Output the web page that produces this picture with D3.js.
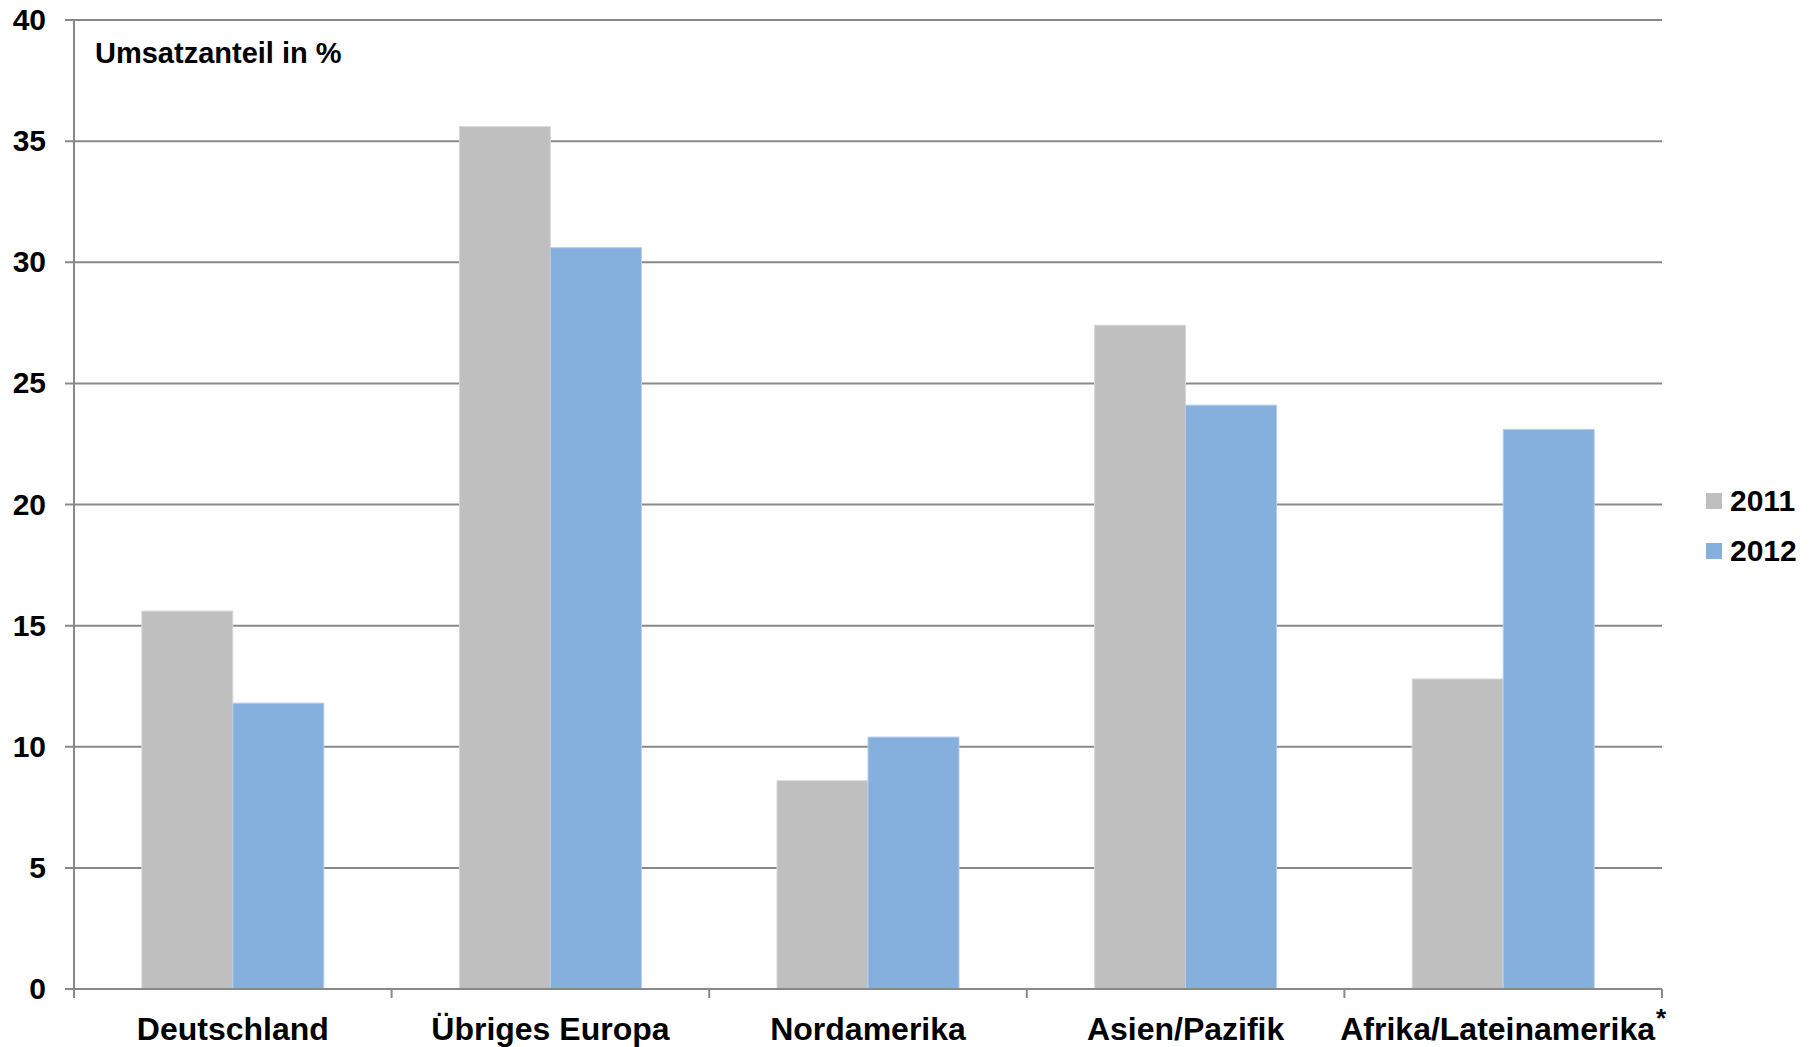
<!DOCTYPE html>
<meta charset="utf-8">
<script src="https://d3js.org/d3.v7.min.js"></script>
<style>
  body { margin: 0; background: #fff; }
  text { font-family: "Liberation Sans", Arial, sans-serif; font-weight: bold; fill: #000; }
</style>
<div id="chart"></div>
<script>
  // data
  var regions = ["Deutschland", "Übriges Europa", "Nordamerika", "Asien/Pazifik", "Afrika/Lateinamerika"];
  var years = ["2011", "2012"];
  var values2011 = [15.6, 35.6, 8.6, 27.4, 12.8];
  var values2012 = [11.8, 30.6, 10.4, 24.1, 23.1];
  var yTicks = [0, 5, 10, 15, 20, 25, 30, 35, 40];
  var colors = ["#bfbfbf", "#85afdc"];
  var edges = ["#d9d9d9", "#b3cdea"];

  var W = 1818, H = 1047;
  var pLeft = 74, pRight = 1662, pTop = 20, pBottom = 989;

  var svg = d3.select("#chart").append("svg")
      .attr("width", W)
      .attr("height", H);

  var x0 = d3.scaleBand().domain(regions).range([pLeft, pRight]);
  var x1 = d3.scaleBand().domain(years).range([0, x0.bandwidth()]).paddingOuter(0.745);
  var y = d3.scaleLinear().domain([0, 40]).range([pBottom, pTop]);

  // gridlines
  svg.append("g")
    .selectAll("line")
    .data(yTicks)
    .enter()
    .append("line")
      .attr("x1", pLeft - 9)
      .attr("x2", pRight)
      .attr("y1", function(d) { return y(d); })
      .attr("y2", function(d) { return y(d); })
      .attr("stroke", "#898989")
      .attr("stroke-width", 2);

  // left axis line
  svg.append("line")
    .attr("x1", pLeft).attr("x2", pLeft)
    .attr("y1", pTop).attr("y2", pBottom)
    .attr("stroke", "#898989").attr("stroke-width", 2);

  // y labels
  svg.append("g")
    .selectAll("text")
    .data(yTicks)
    .enter()
    .append("text")
      .attr("x", 46)
      .attr("y", function(d) { return y(d) + 10; })
      .attr("text-anchor", "end")
      .style("font-size", "30px")
      .text(function(d) { return d; });

  // bars
  var series = [values2011, values2012];
  var groups = svg.append("g")
    .selectAll("g")
    .data(regions)
    .enter()
    .append("g")
      .attr("transform", function(d) { return "translate(" + x0(d) + ",0)"; });

  groups.selectAll("rect")
    .data(function(d, i) { return years.map(function(yr, j) { return {yr: yr, j: j, v: series[j][i]}; }); })
    .enter()
    .append("rect")
      .attr("x", function(d) { return x1(d.yr); })
      .attr("y", function(d) { return y(d.v); })
      .attr("width", x1.bandwidth())
      .attr("height", function(d) { return pBottom - y(d.v); })
      .attr("fill", function(d) { return colors[d.j]; })
      .attr("stroke", function(d) { return edges[d.j]; })
      .attr("stroke-width", 1);

  // x axis
  var xAxis = svg.append("g")
    .attr("transform", "translate(0," + pBottom + ")");
  xAxis.append("line")
    .attr("x1", pLeft).attr("x2", pRight)
    .attr("stroke", "#898989").attr("stroke-width", 2);
  var bounds = regions.map(function(d) { return x0(d); }).concat([pRight]);
  xAxis.selectAll("line.tick")
    .data(bounds)
    .enter()
    .append("line")
      .attr("class", "tick")
      .attr("x1", function(d) { return d; })
      .attr("x2", function(d) { return d; })
      .attr("y1", 0).attr("y2", 9)
      .attr("stroke", "#898989").attr("stroke-width", 2);

  var xl = svg.append("g").selectAll("text")
    .data(regions)
    .enter()
    .append("text")
      .attr("x", function(d) { return x0(d) + x0.bandwidth() / 2; })
      .attr("y", 1040)
      .attr("text-anchor", "middle")
      .style("font-size", "32px")
      .text(function(d) { return d; });
  xl.filter(function(d, i) { return i === regions.length - 1; })
    .append("tspan")
      .attr("dy", -13)
      .attr("dx", 1)
      .style("font-size", "26px")
      .text("*");

  // title
  svg.append("text")
    .attr("x", 95)
    .attr("y", 63)
    .style("font-size", "29px")
    .text("Umsatzanteil in %");

  // legend
  var lg = svg.append("g").selectAll("g")
    .data(years)
    .enter()
    .append("g")
      .attr("transform", function(d, i) { return "translate(1706," + (493 + i * 50) + ")"; });
  lg.append("rect")
    .attr("width", 16).attr("height", 16)
    .attr("fill", function(d, i) { return colors[i]; });
  lg.append("text")
    .attr("x", 24)
    .attr("y", 18)
    .style("font-size", "30px")
    .text(function(d) { return d; });
</script>
